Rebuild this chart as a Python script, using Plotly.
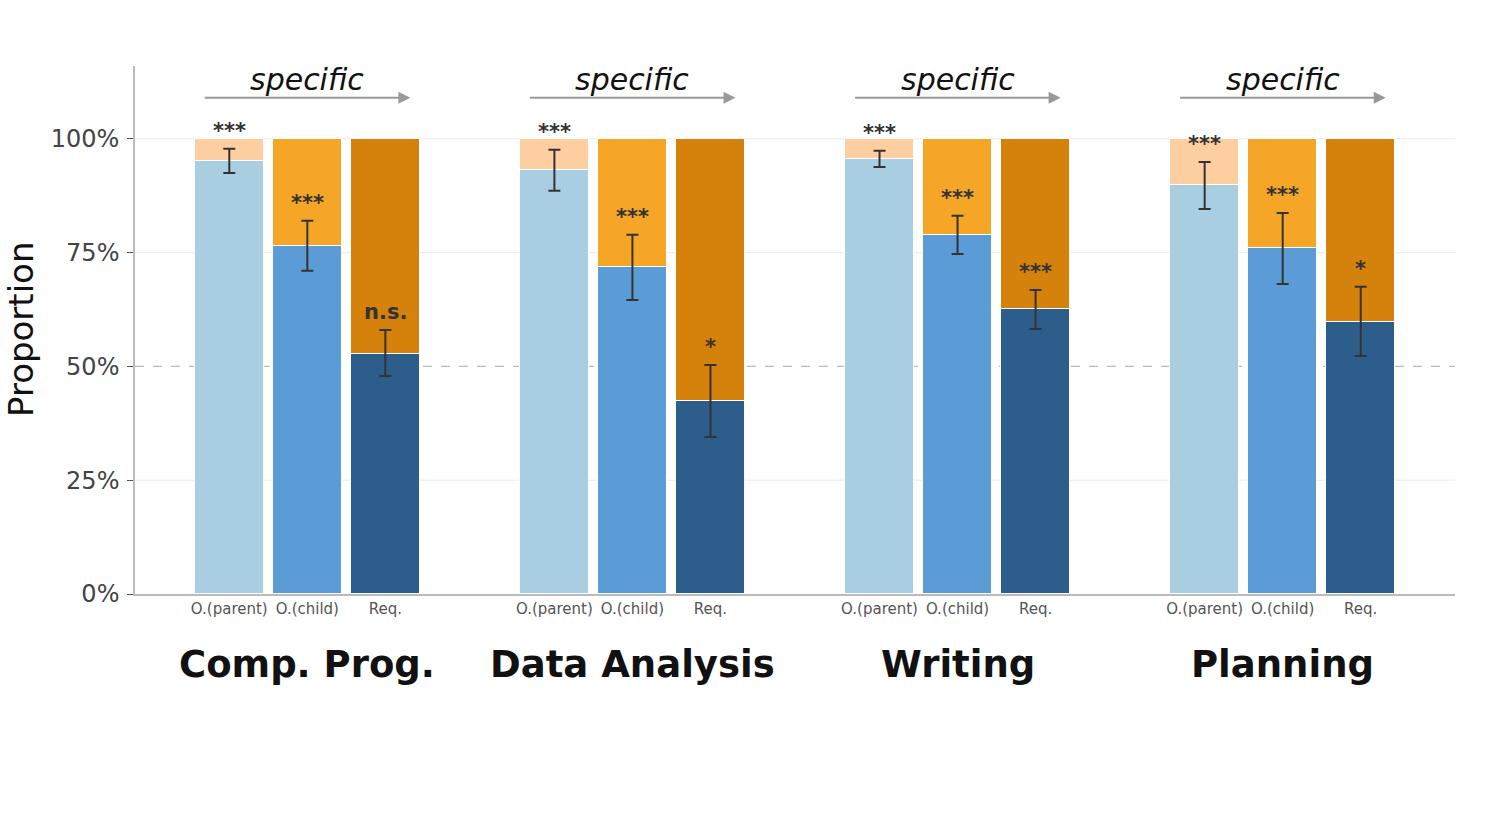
import plotly.graph_objects as go

groups = ["Comp. Prog.", "Data Analysis", "Writing", "Planning"]
bar_types = ["O.(parent)", "O.(child)", "Req."]

# proportion (%) of the lower (blue) segment, per bar type, per group
parent_vals = [95.2, 93.2, 95.6, 89.9]
child_vals = [76.5, 71.9, 78.9, 76.0]
req_vals = [52.7, 42.4, 62.6, 59.8]

# confidence interval upper / lower bounds (%)
parent_hi = [97.8, 97.6, 97.4, 94.9]
parent_lo = [92.5, 88.6, 93.8, 84.6]
child_hi = [82.0, 78.9, 83.1, 83.7]
child_lo = [71.0, 64.6, 74.7, 68.1]
req_hi = [58.0, 50.3, 66.8, 67.5]
req_lo = [47.9, 34.5, 58.2, 52.3]

parent_sig = ["***", "***", "***", "***"]
child_sig = ["***", "***", "***", "***"]
req_sig = ["n.s.", "*", "***", "*"]

y_ticks = [0, 25, 50, 75, 100]
y_ticktext = ["0%", "25%", "50%", "75%", "100%"]
chance_level = 50

bottom_colors = ["#a9cee1", "#5b9bd6", "#2d5d8b"]
top_colors = ["#fdcea0", "#f5a626", "#d4820b"]

OFFSET = 0.24
WIDTH = 0.213

series = [
    (parent_vals, parent_hi, parent_lo, parent_sig),
    (child_vals, child_hi, child_lo, child_sig),
    (req_vals, req_hi, req_lo, req_sig),
]

fig = go.Figure()
annotations = []
tickvals, ticktext = [], []
err_traces = []

for j, (vals, hi, lo, sig) in enumerate(series):
    xs = [g + (j - 1) * OFFSET for g in range(len(groups))]
    fig.add_trace(go.Bar(
        x=xs, y=vals, width=WIDTH,
        marker=dict(color=bottom_colors[j], line=dict(color="white", width=1)),
        showlegend=False, hoverinfo="skip",
    ))
    fig.add_trace(go.Bar(
        x=xs, y=[100 - v for v in vals], width=WIDTH,
        marker=dict(color=top_colors[j], line=dict(color="white", width=1)),
        showlegend=False, hoverinfo="skip",
    ))
    err_traces.append(go.Scatter(
        x=xs, y=vals, mode="markers", marker=dict(size=1, opacity=0),
        error_y=dict(type="data", symmetric=False,
                     array=[h - v for h, v in zip(hi, vals)],
                     arrayminus=[v - l for v, l in zip(vals, lo)],
                     color="#333333", thickness=2, width=6),
        showlegend=False, hoverinfo="skip",
    ))
    for x, h, s in zip(xs, hi, sig):
        annotations.append(dict(
            x=x, y=h, xref="x", yref="y", text=f"<b>{s}</b>", showarrow=False,
            yanchor="middle", yshift=18,
            font=dict(family="DejaVu Sans", size=21, color="#333333"),
        ))
        tickvals.append(x)
    ticktext.extend([bar_types[j]] * len(groups))

for t in err_traces:
    fig.add_trace(t)

for g, name in enumerate(groups):
    annotations.append(dict(
        x=g, y=0, xref="x", yref="paper", text=f"<b>{name}</b>", showarrow=False,
        yanchor="middle", yshift=-70,
        font=dict(family="DejaVu Sans", size=37, color="#111111"),
    ))
    annotations.append(dict(
        x=g, y=113, xref="x", yref="y", text="<i>specific</i>", showarrow=False,
        yanchor="middle",
        font=dict(family="DejaVu Sans", size=30, color="#111111"),
    ))
    annotations.append(dict(
        x=g + 0.317, y=109, ax=g - 0.32, ay=109,
        xref="x", yref="y", axref="x", ayref="y",
        text="", showarrow=True, arrowhead=2, arrowsize=1.2, arrowwidth=2,
        arrowcolor="#999999",
    ))

annotations.append(dict(
    x=0, y=0.5, xref="paper", yref="paper", text="Proportion", showarrow=False,
    textangle=-90, xshift=-114, xanchor="center", yanchor="middle",
    font=dict(family="DejaVu Sans", size=34, color="#111111"),
))

# gridlines drawn as shapes beneath the bars; chance level dashed
for yv in y_ticks[1:]:
    if yv == chance_level:
        fig.add_shape(type="line", xref="paper", yref="y", x0=0, x1=1, y0=yv, y1=yv,
                      line=dict(color="#bbbbbb", width=1.2, dash="dash"), layer="below")
    else:
        fig.add_shape(type="line", xref="paper", yref="y", x0=0, x1=1, y0=yv, y1=yv,
                      line=dict(color="#ebebeb", width=1), layer="below")

fig.update_layout(
    width=1500, height=825,
    barmode="stack", bargap=0,
    plot_bgcolor="white", paper_bgcolor="white",
    margin=dict(l=135, r=45, t=66, b=231),
    font=dict(family="DejaVu Sans"),
    annotations=annotations,
    xaxis=dict(
        range=[-0.53, 3.53], tickvals=tickvals, ticktext=ticktext,
        tickfont=dict(size=15, color="#555555"), showgrid=False,
        showline=True, linecolor="#bbbbbb", linewidth=1.5, ticks="", zeroline=False,
    ),
    yaxis=dict(
        range=[0, 116], tickvals=y_ticks, ticktext=y_ticktext,
        tickfont=dict(size=24, color="#444444"), showgrid=False,
        showline=True, linecolor="#bbbbbb", linewidth=1.5, ticks="outside",
        ticklen=6, tickcolor="#555555", zeroline=False, ticklabelstandoff=3,
    ),
)

fig.write_html("out.html")
